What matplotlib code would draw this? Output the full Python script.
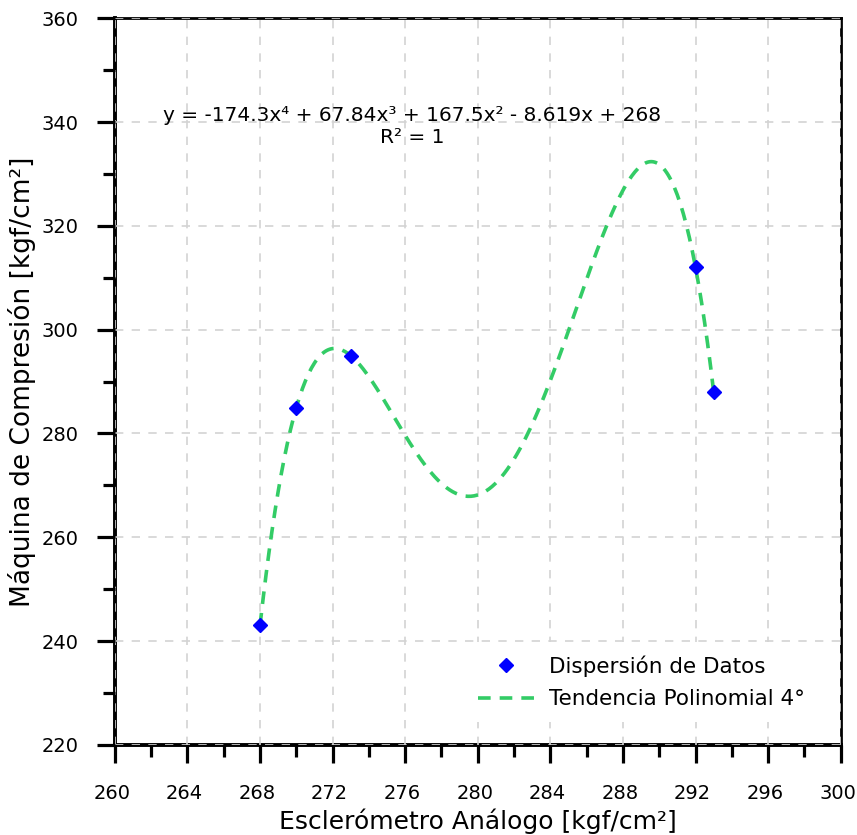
import numpy as np
import matplotlib
matplotlib.use("Agg")
import matplotlib.pyplot as plt
import matplotlib.transforms as mtransforms
from matplotlib.ticker import MultipleLocator

x_vals = [268, 270, 273, 292, 293]
y_vals = [243, 285, 295, 312, 288]
equation = "y = -174.3x⁴ + 67.84x³ + 167.5x² - 8.619x + 268\nR² = 1"

plt.rcParams['font.family'] = ['DejaVu Sans']

fig = plt.figure(figsize=(8.57, 8.35), dpi=100)
ax = fig.add_axes([0.134, 0.108, 0.847, 0.870])

# polynomial trend (4th order fit of data)
coef = np.polyfit(np.array(x_vals) - 280, y_vals, 4)
xs = np.linspace(268, 293, 300)
ys = np.polyval(coef, xs - 280)

ax.plot(x_vals, y_vals, linestyle='none', marker='D', color='#0000FF', markersize=7.5,
        label='Dispersión de Datos', zorder=4)
ax.plot(xs, ys, linestyle=(0, (3.5, 2.5)), color='#33CC66', linewidth=2.6,
        label='Tendencia Polinomial 4°', zorder=3)

ax.set_xlim(260, 300)
ax.set_ylim(220, 360)
ax.xaxis.set_major_locator(MultipleLocator(4))
ax.xaxis.set_minor_locator(MultipleLocator(2))
ax.yaxis.set_major_locator(MultipleLocator(20))
ax.yaxis.set_minor_locator(MultipleLocator(10))
ax.tick_params(which='major', direction='out', length=13, width=2.3, labelsize=14, color='black')
ax.tick_params(axis='x', which='major', pad=15)
ax.tick_params(axis='y', which='major', pad=13)
ax.tick_params(which='minor', direction='out', length=8.5, width=2.3)
ax.grid(True, which='major', linestyle=(0, (5, 5)), color='#D3D3D3', linewidth=1.2, zorder=5)
ax.set_axisbelow(False)
for side in ['left', 'bottom']:
    ax.spines[side].set_linewidth(2.8)
for side in ['top', 'right']:
    ax.spines[side].set_linewidth(2.0)

# shift x tick labels slightly left, as in the reference
offset = mtransforms.ScaledTranslation(-3 / 100, 0, fig.dpi_scale_trans)
for lbl in ax.get_xticklabels():
    lbl.set_transform(lbl.get_transform() + offset)

ax.set_xlabel('Esclerómetro Análogo [kgf/cm²]', fontsize=18, labelpad=4)
ax.set_ylabel('Máquina de Compresión [kgf/cm²]', fontsize=19, labelpad=4)

ax.text(276.4, 339.2, equation, ha='center', va='center', fontsize=14.5, linespacing=1.2)

leg = ax.legend(loc='lower right', bbox_to_anchor=(0.975, 0.025), frameon=True, fontsize=15.5,
                handlelength=2.6, borderaxespad=0.2, handletextpad=0.7, labelspacing=0.6,
                borderpad=0.6)
leg.get_frame().set_edgecolor('none')
leg.get_frame().set_facecolor('white')
leg.get_frame().set_alpha(1.0)
leg.set_zorder(6)

fig.savefig('out.png', dpi=100)
